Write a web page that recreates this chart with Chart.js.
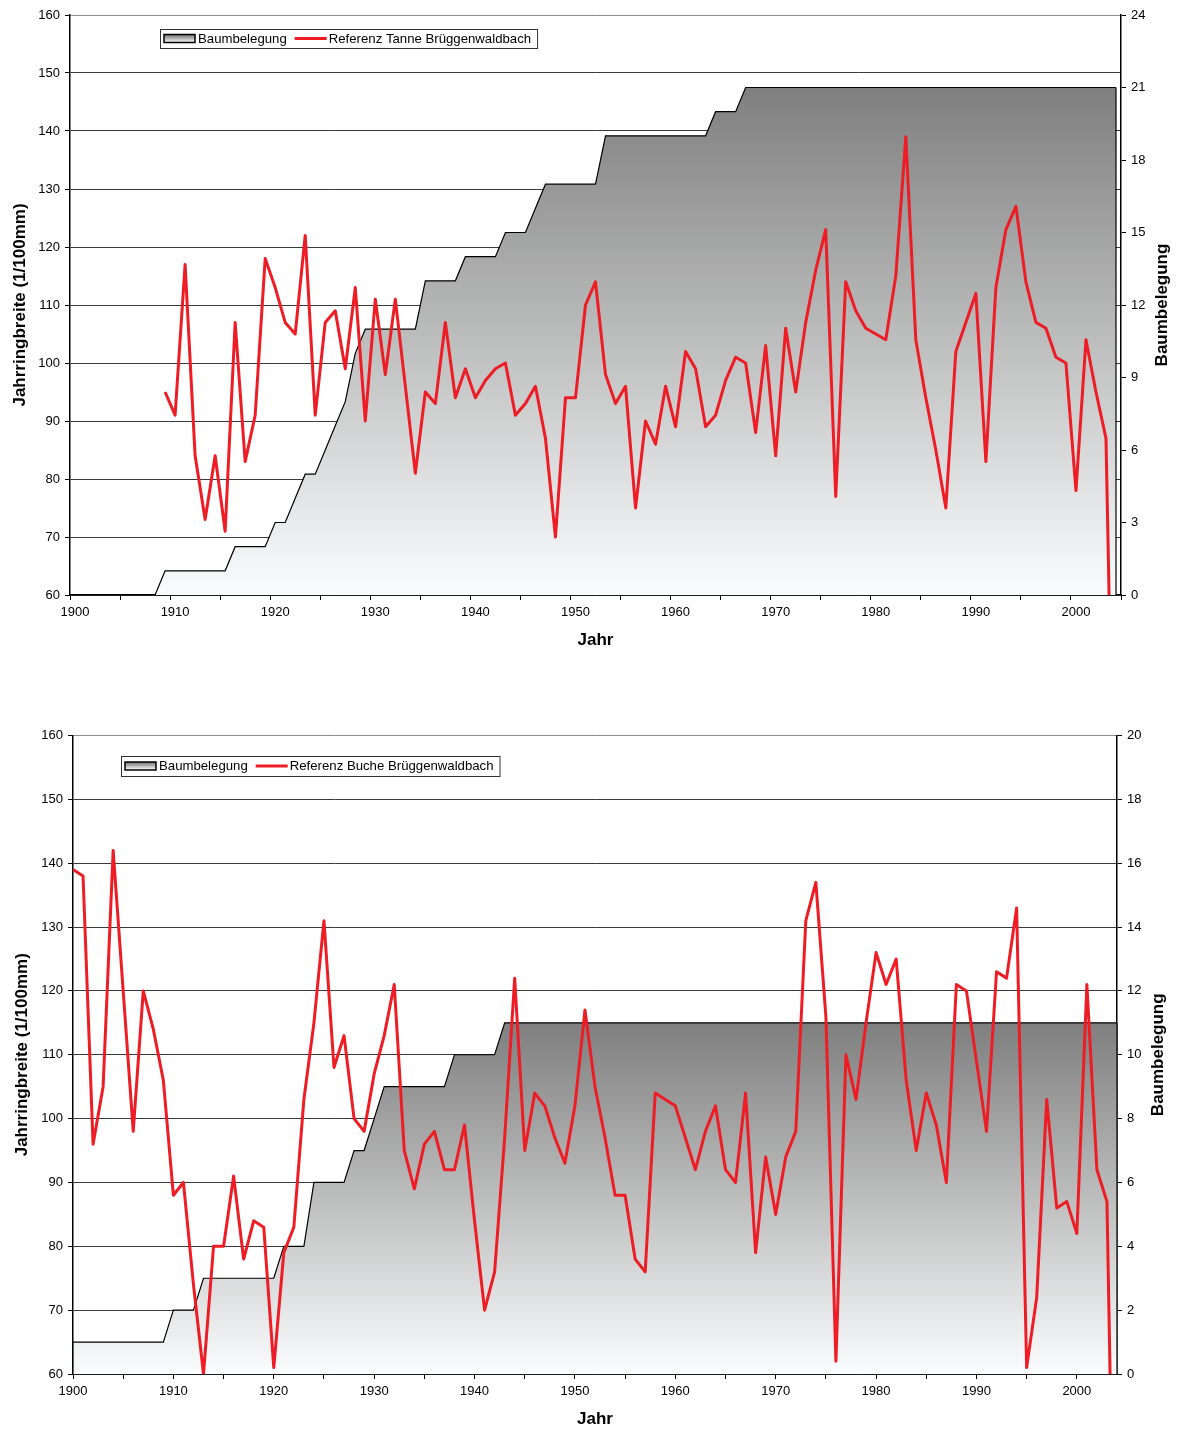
<!DOCTYPE html>
<html>
<head>
<meta charset="utf-8">
<title>Referenzkurven Brüggenwaldbach</title>
<script src="https://cdn.jsdelivr.net/npm/chart.js@4.4.1/dist/chart.umd.min.js"></script>
<style>
  html, body { margin: 0; padding: 0; background: #fff; }
  body { width: 1178px; height: 1432px; position: relative; overflow: hidden; }
  canvas { position: absolute; left: 0; }
  #tanneChart { top: 0; }
  #bucheChart { top: 705px; }
</style>
</head>
<body>
<canvas id="tanneChart" width="1178" height="705"></canvas>
<canvas id="bucheChart" width="1178" height="727"></canvas>
<script>
// --- data ---------------------------------------------------------------

// Tanne: ring widths start in 1909, tree counts in 1900
const tanneWidthStart = 1909;
const tanneWidths = [
  95,
  91, 117, 84, 73, 84, 71, 107, 83, 91, 118,
  113, 107, 105, 122, 91, 107, 109, 99, 113, 90,
  111, 98, 111, 96, 81, 95, 93, 107, 94, 99,
  94, 97, 99, 100, 91, 93, 96, 87, 70, 94,
  94, 110, 114, 98, 93, 96, 75, 90, 86, 96,
  89, 102, 99, 89, 91, 97, 101, 100, 88, 103,
  84, 106, 95, 107, 116, 123, 77, 114, 109, 106,
  105, 104, 115, 139, 104, 94, 85, 75, 102, 107,
  112, 83, 113, 123, 127, 114, 107, 106, 101, 100,
  78, 104, 95, 87, 0
];
const tanneTreeStart = 1900;
const tanneTrees = [
  0, 0, 0, 0, 0, 0, 0, 0, 0, 1,
  1, 1, 1, 1, 1, 1, 2, 2, 2, 2,
  3, 3, 4, 5, 5, 6, 7, 8, 10, 11,
  11, 11, 11, 11, 11, 13, 13, 13, 13, 14,
  14, 14, 14, 15, 15, 15, 16, 17, 17, 17,
  17, 17, 17, 19, 19, 19, 19, 19, 19, 19,
  19, 19, 19, 19, 20, 20, 20, 21, 21, 21,
  21, 21, 21, 21, 21, 21, 21, 21, 21, 21,
  21, 21, 21, 21, 21, 21, 21, 21, 21, 21,
  21, 21, 21, 21, 21, 21, 21, 21, 21, 21,
  21, 21, 21, 21, 21
];

// Buche: both series start in 1900
const bucheWidthStart = 1900;
const bucheWidths = [
  139, 138, 96, 105, 142, 120, 98, 120, 114, 106,
  88, 90, 74, 60, 80, 80, 91, 78, 84, 83,
  61, 79, 83, 103, 115, 131, 108, 113, 100, 98,
  107, 113, 121, 95, 89, 96, 98, 92, 92, 99,
  84, 70, 76, 97, 122, 95, 104, 102, 97, 93,
  102, 117, 105, 97, 88, 88, 78, 76, 104, 103,
  102, 97, 92, 98, 102, 92, 90, 104, 79, 94,
  85, 94, 98, 131, 137, 116, 62, 110, 103, 115,
  126, 121, 125, 106, 95, 104, 99, 90, 121, 120,
  109, 98, 123, 122, 133, 61, 72, 103, 86, 87,
  82, 121, 92, 87, 0
];
const bucheTreeStart = 1900;
const bucheTrees = [
  1, 1, 1, 1, 1, 1, 1, 1, 1, 1,
  2, 2, 2, 3, 3, 3, 3, 3, 3, 3,
  3, 4, 4, 4, 6, 6, 6, 6, 7, 7,
  8, 9, 9, 9, 9, 9, 9, 9, 10, 10,
  10, 10, 10, 11, 11, 11, 11, 11, 11, 11,
  11, 11, 11, 11, 11, 11, 11, 11, 11, 11,
  11, 11, 11, 11, 11, 11, 11, 11, 11, 11,
  11, 11, 11, 11, 11, 11, 11, 11, 11, 11,
  11, 11, 11, 11, 11, 11, 11, 11, 11, 11,
  11, 11, 11, 11, 11, 11, 11, 11, 11, 11,
  11, 11, 11, 11, 11
];

// axis ranges / tick steps
const yearMin = 1900, yearTickStep = 5, yearLabelStep = 10;
const widthMin = 60, widthMax = 160, widthStep = 10;
const tanneTreeMax = 24, tanneTreeStep = 3;
const bucheTreeMax = 20, bucheTreeStep = 2;

// --- styling -------------------------------------------------------------
const FONT = "'Liberation Sans', Arial, Helvetica, sans-serif";
const RED = '#ee1c25';
const tickFont = { family: FONT, size: 13 };
const titleFont = { family: FONT, size: 17, weight: 'bold' };

function yearPoints(firstYear, values, shift) {
  return values.map((v, i) => ({ x: firstYear + i + shift, y: v }));
}

function areaGradient(ctx) {
  const chart = ctx.chart;
  if (!chart.chartArea || !ctx.dataset) return '#a8a8a8';
  const y2 = chart.scales.y2;
  const top = y2.getPixelForValue(Math.max(...ctx.dataset.data.map(p => p.y)));
  const bottom = y2.getPixelForValue(0);
  const g = chart.ctx.createLinearGradient(0, top, 0, bottom);
  g.addColorStop(0, '#7f7f7f');
  g.addColorStop(1, '#fbfcfd');
  return g;
}

// year ticks every 5 years (labels only every 10)
function yearTicks(sc) {
  const out = [];
  for (let v = Math.ceil(sc.min / yearTickStep) * yearTickStep; v <= sc.max; v += yearTickStep) {
    out.push({ value: v });
  }
  sc.ticks = out;
}

// closes the area at its first and last point with a vertical edge
const areaEdges = {
  id: 'areaEdges',
  afterDatasetDraw(chart, args) {
    if (args.meta.yAxisID !== 'y2') return;
    const pts = args.meta.data;
    if (!pts.length) return;
    const base = chart.scales.y2.getPixelForValue(0);
    const c = chart.ctx;
    c.save();
    c.strokeStyle = '#000';
    c.lineWidth = 1.2;
    c.beginPath();
    [pts[0], pts[pts.length - 1]].forEach(p => {
      c.moveTo(p.x, p.y);
      c.lineTo(p.x, base);
    });
    c.stroke();
    c.restore();
  }
};

// Excel-style legend box placed inside the plot
const boxLegend = {
  id: 'boxLegend',
  afterDraw(chart, args, opts) {
    const c = chart.ctx;
    const cy = opts.y + opts.h / 2;
    let x = opts.x + 4;
    c.save();
    c.font = `13.2px ${FONT}`;
    c.textBaseline = 'middle';
    c.fillStyle = '#000';
    chart.data.datasets.forEach(ds => {
      if (ds.yAxisID === 'y2') {
        const g = c.createLinearGradient(0, cy - 4, 0, cy + 4);
        g.addColorStop(0, '#6f6f6f');
        g.addColorStop(1, '#ffffff');
        c.fillStyle = g;
        c.fillRect(x, cy - 4, 31, 8);
        c.strokeStyle = '#000';
        c.lineWidth = 1.5;
        c.strokeRect(x, cy - 4, 31, 8);
      } else {
        c.strokeStyle = RED;
        c.lineWidth = 3;
        c.beginPath();
        c.moveTo(x, cy);
        c.lineTo(x + 32, cy);
        c.stroke();
      }
      x += 34;
      c.fillStyle = '#000';
      c.fillText(ds.label, x, cy + 0.5);
      x += c.measureText(ds.label).width + 8;
    });
    c.strokeStyle = '#333';
    c.lineWidth = 1;
    c.strokeRect(opts.x + 0.5, opts.y + 0.5, x - 8 + 6 - opts.x, opts.h);
    c.restore();
  }
};

// right axis title reads bottom-to-top like the left one
const rightTitle = {
  id: 'rightTitle',
  afterDraw(chart, args, opts) {
    const a = chart.chartArea;
    const c = chart.ctx;
    c.save();
    c.translate(a.right + opts.offset, (a.top + a.bottom) / 2);
    c.rotate(-Math.PI / 2);
    c.font = `bold 17px ${FONT}`;
    c.fillStyle = '#000';
    c.textAlign = 'center';
    c.textBaseline = 'middle';
    c.fillText(opts.text, 0, 0);
    c.restore();
  }
};

function makeChart(id, s) {
  return new Chart(document.getElementById(id), {
    type: 'line',
    data: {
      datasets: [
        {
          label: 'Baumbelegung',
          data: yearPoints(s.treeStart, s.trees, s.shift),
          yAxisID: 'y2',
          order: 2,
          fill: 'origin',
          borderColor: '#000',
          borderWidth: 1.2,
          backgroundColor: areaGradient,
          pointRadius: 0
        },
        {
          label: s.lineLabel,
          data: yearPoints(s.widthStart, s.widths, s.shift),
          yAxisID: 'y',
          order: 1,
          fill: false,
          borderColor: RED,
          borderWidth: 3,
          borderJoinStyle: 'round',
          pointRadius: 0
        }
      ]
    },
    options: {
      responsive: false,
      animation: false,
      events: [],
      layout: { padding: s.padding },
      elements: { line: { tension: 0 } },
      plugins: {
        legend: { display: false },
        tooltip: { enabled: false },
        boxLegend: s.legend,
        rightTitle: { text: 'Baumbelegung', offset: 41.5 }
      },
      scales: {
        x: {
          type: 'linear',
          min: yearMin,
          max: s.yearMax,
          afterBuildTicks: yearTicks,
          afterFit: sc => { sc.height = s.xHeight; sc.paddingLeft = 0; sc.paddingRight = 0; },
          ticks: {
            autoSkip: false,
            maxRotation: 0,
            labelOffset: s.labelOffset,
            padding: 5,
            color: '#000',
            font: tickFont,
            callback: v => (v % yearLabelStep === 0 ? String(v) : '')
          },
          grid: { drawOnChartArea: false, tickLength: 5, color: '#000' },
          border: { color: '#000', width: 1.5 },
          title: {
            display: true, text: 'Jahr', color: '#000', font: titleFont,
            padding: { top: 0, bottom: s.xTitlePad }
          }
        },
        y: {
          position: 'left',
          min: widthMin,
          max: widthMax,
          afterFit: sc => { sc.width = 70; sc.paddingTop = 0; sc.paddingBottom = 0; },
          ticks: { stepSize: widthStep, padding: 5, color: '#000', font: tickFont },
          grid: {
            color: c => (c.tick && c.tick.value === widthMax ? '#8c8c8c' : '#3a3a3a'),
            tickColor: '#000',
            tickLength: 5,
            lineWidth: 1
          },
          border: { color: '#000', width: 1.5 },
          title: {
            display: true, text: 'Jahrringbreite (1/100mm)', color: '#000', font: titleFont,
            padding: { top: s.yTitlePad, bottom: 0 }
          }
        },
        y2: {
          position: 'right',
          min: 0,
          max: s.treeMax,
          afterFit: sc => { sc.width = s.rightWidth; sc.paddingTop = 0; sc.paddingBottom = 0; },
          ticks: { stepSize: s.treeStep, padding: 5, color: '#000', font: tickFont },
          grid: { drawOnChartArea: false, tickLength: 5, color: '#000' },
          border: { color: '#000', width: 1.5 }
        }
      }
    },
    plugins: [areaEdges, boxLegend, rightTitle]
  });
}

makeChart('tanneChart', {
  lineLabel: 'Referenz Tanne Brüggenwaldbach',
  widthStart: tanneWidthStart, widths: tanneWidths,
  treeStart: tanneTreeStart, trees: tanneTrees,
  treeMax: tanneTreeMax, treeStep: tanneTreeStep,
  yearMax: 2005, shift: 0.5, labelOffset: 5,
  padding: { top: 15, left: 0, right: 0, bottom: 50 },
  xHeight: 60, xTitlePad: 4, yTitlePad: 10, rightWidth: 57,
  legend: { x: 160, y: 29, h: 19 }
});

makeChart('bucheChart', {
  lineLabel: 'Referenz Buche Brüggenwaldbach',
  widthStart: bucheWidthStart, widths: bucheWidths,
  treeStart: bucheTreeStart, trees: bucheTrees,
  treeMax: bucheTreeMax, treeStep: bucheTreeStep,
  yearMax: 2004, shift: 0, labelOffset: 0,
  padding: { top: 30.5, left: 3, right: 0, bottom: 1 },
  xHeight: 57, xTitlePad: 1, yTitlePad: 9, rightWidth: 61,
  legend: { x: 121, y: 51, h: 20 }
});
</script>
</body>
</html>
